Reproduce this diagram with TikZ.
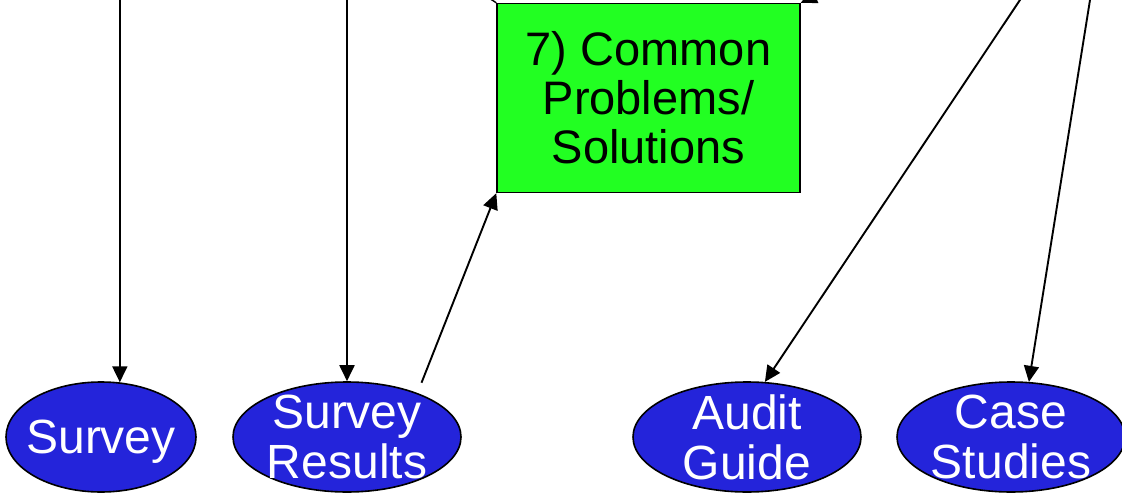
\documentclass[tikz,border=0pt]{standalone}
\usepackage{fontspec}
\setmainfont{Liberation Sans}
\usetikzlibrary{shapes.geometric,arrows.meta}
\definecolor{boxgreen}{RGB}{34,255,34}
\definecolor{ovalblue}{RGB}{36,36,218}
\tikzset{
  oval/.style={ellipse,draw=black,line width=1.6pt,fill=ovalblue,text=white,
    minimum width=228pt,minimum height=110pt,inner xsep=0pt,inner ysep=-15pt,
    align=center,font=\fontsize{48}{50}\selectfont},
  topic/.style={rectangle,draw=black,line width=1.4pt,fill=boxgreen,
    minimum width=303pt,minimum height=189pt,inner sep=0pt,
    align=center,font=\fontsize{47}{49}\selectfont},
  arr/.style={line width=1.9pt,-{Triangle[length=16pt,width=15pt]}}
}
\begin{document}
\begin{tikzpicture}[x=1pt,y=-1pt]
  \useasboundingbox (0,0) rectangle (1122,495);
  \clip (0,0) rectangle (1122,495);
  \node[topic] (cp) at (648.5,98) {7) Common\\Problems/\\Solutions};
  \node[oval,minimum width=190pt,inner xsep=-12pt,text depth=0pt] (sv) at (101,437) {Survey};
  \node[oval] (sr) at (347,437) {Survey\\Results};
  \node[oval] (ag) at (747,437) {Audit\\Guide};
  \node[oval] (cs) at (1011,437) {Case\\Studies};
  \coordinate (top) at (0,-5);
  \coordinate (ag in) at (1023.3,-5);
  \coordinate (cs in) at (1090.8,-5);
  \coordinate (cp in) at (982,-81);
  \coordinate (cp out) at (400,-60);
  \draw[arr] (sv.71 |- top) -- (sv.71);
  \draw[arr] (sr.north |- top) -- (sr.north);
  \draw[arr,shorten <=11pt] (sr.32) -- (cp.south west);
  \draw[arr] (ag in) -- (ag.72);
  \draw[arr] (cs in) -- (cs.72);
  \draw[arr] (cp in) -- (cp.north east);
  \draw[line width=1.4pt] (cp.north west) -- (cp out);
\end{tikzpicture}
\end{document}
